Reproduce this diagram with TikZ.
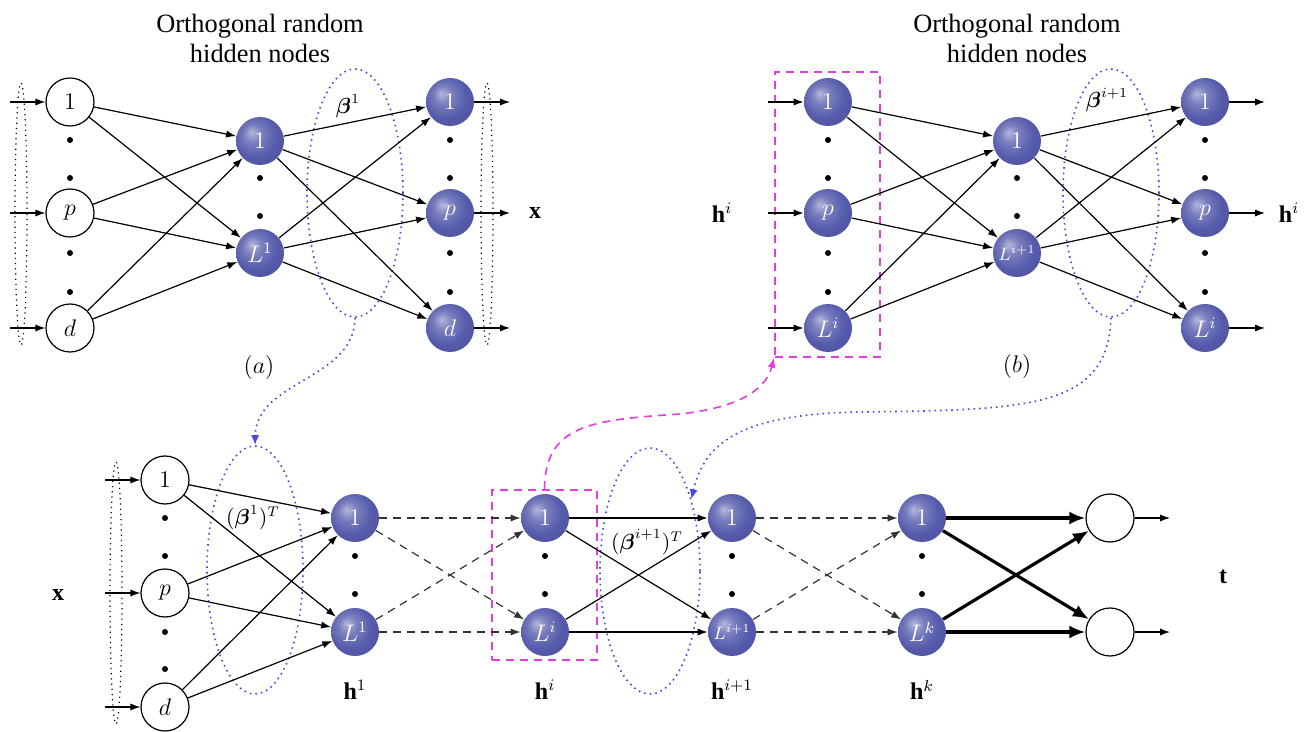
\documentclass[tikz,border=0pt]{standalone}
\usepackage{amsmath}
\usepackage{fontspec}
\setmainfont{Liberation Serif}
\usetikzlibrary{arrows.meta,shapes.geometric}
\definecolor{nodeblue}{RGB}{86,92,172}
\definecolor{ellblue}{RGB}{70,70,230}
\definecolor{magcol}{RGB}{226,60,226}
\pgfdeclareradialshading{softball}{\pgfpoint{-9bp}{9bp}}{%
  color(0bp)=(nodeblue!45!white);
  color(10bp)=(nodeblue!80!white);
  color(22bp)=(nodeblue);
  color(36bp)=(nodeblue!88!black);
  color(50bp)=(nodeblue!72!black)}
\tikzset{
  lbl/.style={font=\fontsize{11.5}{12}\selectfont},
  wnode/.style={circle, draw, line width=0.6pt, fill=white, minimum size=24pt, inner sep=0pt, lbl},
  bnode/.style={circle, shading=softball, minimum size=24pt, inner sep=0pt, text=white, lbl},
  dotn/.style={circle, fill=black, inner sep=0pt, minimum size=3pt},
  arr/.style={-{Latex[length=5pt,width=3.6pt]}, line width=0.6pt},
  darr/.style={arr, draw=black!80, dash pattern=on 4pt off 3pt},
  tarr/.style={-{Latex[length=8pt,width=6.5pt]}, line width=1.6pt},
  narrowell/.style={ellipse, draw, dotted, line width=0.6pt, minimum width=6pt, minimum height=131pt, inner sep=0pt},
  blueell/.style={ellipse, draw=ellblue, dotted, line width=0.8pt, minimum width=48pt, minimum height=124pt, inner sep=0pt},
  bluearr/.style={draw=ellblue, dotted, line width=0.8pt, -{Latex[length=5pt,width=4pt]}},
  magbox/.style={draw=magcol, dash pattern=on 4pt off 3pt, line width=0.8pt, inner sep=0pt},
  magarr/.style={draw=magcol, dash pattern=on 4pt off 3pt, line width=0.8pt, -{Latex[length=5pt,width=4pt]}},
  ttl/.style={align=center, font=\fontsize{13.2}{15}\selectfont},
  big/.style={font=\fontsize{12}{12}\selectfont},
  betal/.style={font=\fontsize{10.5}{11}\selectfont}
}
\begin{document}
\begin{tikzpicture}[x=0.5pt,y=-0.5pt]
\useasboundingbox (0,0) rectangle (1312,732);
% ================= panel (a) =================
\node[ttl] (ta) at (260,38) {Orthogonal random\\hidden nodes};
\node[narrowell] (a-nl) at (21,214) {};
\node[narrowell] (a-nr) at (487,214) {};
\node[blueell] (ea) at (355,193) {};
\node[betal] (a-beta) at (348,106) {$\boldsymbol{\beta}^1$};
\node[wnode] (a-i1) at (70,102) {$1$};
\node[wnode] (a-ip) at (70,213) {$p$};
\node[wnode] (a-id) at (70,328) {$d$};
\node[bnode] (a-h1) at (260,141) {$1$};
\node[bnode] (a-hL) at (260,253) {$L^1$};
\node[bnode] (a-o1) at (450,102) {$1$};
\node[bnode] (a-op) at (450,213) {$p$};
\node[bnode] (a-od) at (450,328) {$d$};
\foreach \y [count=\k] in {140,178,253,292}{
  \node[dotn] (a-di\k) at (70,\y) {};
  \node[dotn] (a-do\k) at (450,\y) {};
}
\node[dotn] (a-dh1) at (260,178) {};
\node[dotn] (a-dh2) at (260,216) {};
\foreach \n/\y in {1/102,p/213,d/328}{
  \coordinate (a-s\n) at (10,\y);
  \coordinate (a-e\n) at (510,\y);
  \draw[arr] (a-s\n) -- (a-i\n);
  \draw[arr] (a-o\n) -- (a-e\n);
}
\foreach \i in {1,p,d}{
  \foreach \h in {1,L}{
    \draw[arr] (a-i\i) -- (a-h\h);
    \draw[arr] (a-h\h) -- (a-o\i);
  }
}
\node[big] (a-x) at (535,213) {$\mathbf{x}$};
\node[big] (a-lab) at (259,368) {$(a)$};
% ================= panel (b) =================
\node[ttl] (tb) at (1017,38) {Orthogonal random\\hidden nodes};
\node[magbox, minimum width=52.5pt, minimum height=142.5pt] (rb) at (827.5,214.5) {};
\node[blueell] (eb) at (1111,193) {};
\node[betal] (b-beta) at (1107,100) {$\boldsymbol{\beta}^{i+1}$};
\node[bnode] (b-i1) at (828,102) {$1$};
\node[bnode] (b-ip) at (828,213) {$p$};
\node[bnode] (b-id) at (828,328) {$L^i$};
\node[bnode] (b-h1) at (1017,141) {$1$};
\node[bnode, font=\fontsize{9}{9}\selectfont] (b-hL) at (1017,253) {$L^{i+1}$};
\node[bnode] (b-o1) at (1205,102) {$1$};
\node[bnode] (b-op) at (1205,213) {$p$};
\node[bnode] (b-od) at (1205,328) {$L^i$};
\foreach \y [count=\k] in {140,178,253,292}{
  \node[dotn] (b-di\k) at (828,\y) {};
  \node[dotn] (b-do\k) at (1205,\y) {};
}
\node[dotn] (b-dh1) at (1017,178) {};
\node[dotn] (b-dh2) at (1017,216) {};
\foreach \n/\y in {1/102,p/213,d/328}{
  \coordinate (b-s\n) at (768,\y);
  \coordinate (b-e\n) at (1265,\y);
  \draw[arr] (b-s\n) -- (b-i\n);
  \draw[arr] (b-o\n) -- (b-e\n);
}
\foreach \i in {1,p,d}{
  \foreach \h in {1,L}{
    \draw[arr] (b-i\i) -- (b-h\h);
    \draw[arr] (b-h\h) -- (b-o\i);
  }
}
\node[big] (b-hl) at (722,213) {$\mathbf{h}^i$};
\node[big] (b-hr) at (1289,213) {$\mathbf{h}^i$};
\node[big] (b-lab) at (1017,367) {$(b)$};
% ================= bottom =================
\node[narrowell] (c-nl) at (116,593) {};
\node[blueell] (ec1) at (255,570) {};
\node[blueell, minimum width=50pt, minimum height=123pt] (ec2) at (650,571) {};
\node[magbox, minimum width=52.5pt, minimum height=85pt] (rc) at (544.5,575) {};
\node[betal] (c-beta1) at (253,518) {$(\boldsymbol{\beta}^1)^T$};
\node[betal] (c-beta2) at (647,542) {$(\boldsymbol{\beta}^{i+1})^T$};
\node[wnode] (c-i1) at (165,480) {$1$};
\node[wnode] (c-ip) at (165,593) {$p$};
\node[wnode] (c-id) at (165,707) {$d$};
\foreach \y [count=\k] in {518,556,632,669}{
  \node[dotn] (c-di\k) at (165,\y) {};
}
\foreach \n/\y in {1/480,p/593,d/707}{
  \coordinate (c-s\n) at (105,\y);
  \draw[arr] (c-s\n) -- (c-i\n);
}
\node[big] (c-x) at (58,595) {$\mathbf{x}$};
% hidden layers
\node[bnode] (h1-1) at (355,518) {$1$};
\node[bnode] (h1-L) at (355,632) {$L^1$};
\node[bnode] (hi-1) at (545,518) {$1$};
\node[bnode] (hi-L) at (545,632) {$L^i$};
\node[bnode] (hj-1) at (732,518) {$1$};
\node[bnode, font=\fontsize{9}{9}\selectfont] (hj-L) at (732,632) {$L^{i+1}$};
\node[bnode] (hk-1) at (922,518) {$1$};
\node[bnode] (hk-L) at (922,632) {$L^k$};
\foreach \c/\x in {h1/355,hi/545,hj/732,hk/922}{
  \node[dotn] (\c-d1) at (\x,556) {};
  \node[dotn] (\c-d2) at (\x,594) {};
}
\node[big] (l-h1) at (355,690) {$\mathbf{h}^1$};
\node[big] (l-hi) at (545,690) {$\mathbf{h}^i$};
\node[big] (l-hj) at (732,690) {$\mathbf{h}^{i+1}$};
\node[big] (l-hk) at (922,690) {$\mathbf{h}^k$};
\node[wnode] (t-1) at (1110,518) {};
\node[wnode] (t-2) at (1110,632) {};
\coordinate (t-e1) at (1170,518);
\coordinate (t-e2) at (1170,632);
\draw[arr] (t-1) -- (t-e1);
\draw[arr] (t-2) -- (t-e2);
\node[big] (c-t) at (1223,577) {$\mathbf{t}$};
% connections
\foreach \i in {1,p,d}{
  \foreach \h in {1,L}{
    \draw[arr] (c-i\i) -- (h1-\h);
  }
}
\foreach \a in {1,L}{
  \foreach \b in {1,L}{
    \draw[darr] (h1-\a) -- (hi-\b);
    \draw[arr] (hi-\a) -- (hj-\b);
    \draw[darr] (hj-\a) -- (hk-\b);
  }
}
\draw[tarr] (hk-1) -- (t-1);
\draw[tarr] (hk-1) -- (t-2);
\draw[tarr] (hk-L) -- (t-1);
\draw[tarr] (hk-L) -- (t-2);
% long connectors
\draw[bluearr] (ea.south) .. controls (355,380) and (256,380) .. (ec1.north);
\coordinate (m2) at (860,412);
\draw[bluearr] (eb.south) .. controls (1108,408) and (1030,410) .. (m2) .. controls (745,414) and (705,440) .. (ec2.60);
\coordinate (m1) at (680,414);
\draw[magarr] (rc.north) .. controls (545,425) and (590,420) .. (m1) .. controls (735,408) and (765,392) .. (rb.south west);
\end{tikzpicture}
\end{document}
